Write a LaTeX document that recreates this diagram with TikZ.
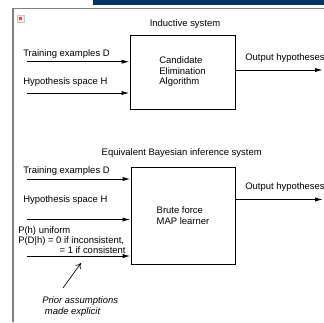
\documentclass[tikz,border=0pt]{standalone}
\usepackage{fontspec}
\setmainfont{Liberation Sans}
\usepackage{tikz}
\usetikzlibrary{arrows.meta}

\definecolor{barblue}{RGB}{0,51,102}
\definecolor{framegray}{RGB}{128,128,128}

\tikzset{
  sysbox/.style={draw, line width=0.75pt, inner sep=0pt, align=left},
  txt/.style={inner sep=0.75pt, font=\fontsize{7.1}{7.9}\selectfont},
  inarrow/.style={line width=0.75pt, -{Latex[length=6pt,width=3.2pt]}},
}

\begin{document}
\begin{tikzpicture}[x=0.75pt,y=0.75pt,yscale=-1,xscale=1]
\useasboundingbox (0,0) rectangle (324,322);

%Top bar and frame
\fill [barblue] (93,0) rectangle (324,4.5);
\draw [framegray, line width=1.1pt] (13,322) -- (13,8.5) -- (324,8.5);
%Icon
\draw [gray!45, fill=red!8, line width=0.4pt] (17,15) rectangle (24,22);
\fill [red!75] (19.3,17.3) rectangle (21.7,19.7);

%Inductive system
\node [sysbox, minimum width=78.75pt, minimum height=55.5pt, txt] (cea) at (182.5,72) {Candidate\\Elimination\\Algorithm};
\draw (185,24) node [txt] (titleA) {Inductive system};

\coordinate (inDa) at (27,61.7);
\coordinate (inHa) at (27,93);
\coordinate (outA) at (323,70);
\draw [inarrow] (inDa) -- (inDa -| cea.west);
\draw [inarrow] (inHa) -- (inHa -| cea.west);
\draw [inarrow] (outA -| cea.east) -- (outA);

\draw (22,54) node [anchor=west, txt] (lblDa) {Training examples D};
\draw (22,82) node [anchor=west, txt] (lblHa) {Hypothesis space H};
\draw (244,58) node [anchor=west, txt] (lblOa) {Output hypotheses};

%Equivalent Bayesian inference system
\node [sysbox, minimum width=78pt, minimum height=72.75pt, txt] (map) at (183,215.5) {Brute force\\MAP learner};
\draw (181.7,152.7) node [txt] (titleB) {Equivalent Bayesian inference system};

\coordinate (inDb) at (27,179);
\coordinate (inHb) at (27,219.5);
\coordinate (inPb) at (27,256);
\coordinate (outB) at (323,199.5);
\draw [inarrow] (inDb) -- (inDb -| map.west);
\draw [inarrow] (inHb) -- (inHb -| map.west);
\draw [inarrow] (inPb) -- (inPb -| map.west);
\draw [inarrow] (outB -| map.east) -- (outB);

\draw (22,171) node [anchor=west, txt] (lblDb) {Training examples D};
\draw (22,200) node [anchor=west, txt] (lblHb) {Hypothesis space H};
\draw (244,187.5) node [anchor=west, txt] (lblOb) {Output hypotheses};
\draw (17,225.5) node [anchor=north west, txt, align=left, font=\fontsize{7.1}{5.6}\selectfont] (prior) {P(h) uniform\\P(D|h) = 0 if inconsistent,\\\hspace*{31pt}= 1 if consistent};

%Note
\coordinate (noteA) at (63,288);
\coordinate (noteB) at (81,263);
\draw [line width=0.5pt, -{To[length=4pt,width=5pt]}] (noteA) -- (noteB);
\draw (41,295) node [anchor=north west, txt, align=left, font=\fontsize{7.1}{8.2}\selectfont\itshape] (note) {Prior assumptions\\\hspace*{2pt}made explicit};

\end{tikzpicture}
\end{document}
